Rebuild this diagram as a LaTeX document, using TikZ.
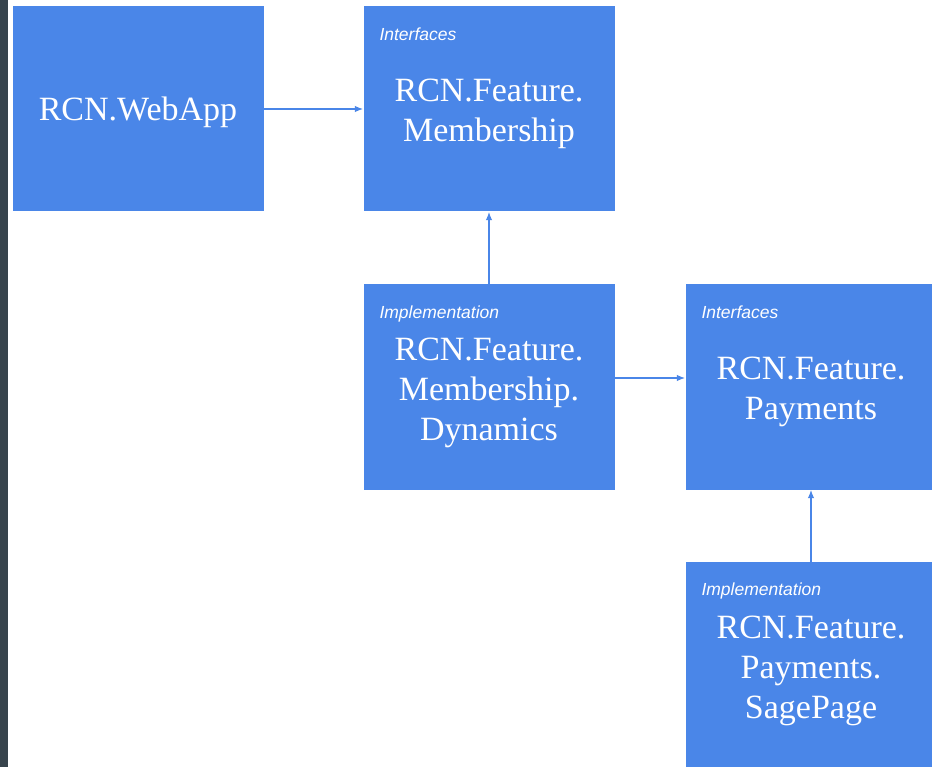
\documentclass[tikz,border=0pt]{standalone}
\usepackage{fontspec}
\setmainfont{Liberation Serif}
\newfontfamily\tagfont{Liberation Sans}
\usetikzlibrary{arrows.meta}

\definecolor{boxblue}{HTML}{4A86E8}
\definecolor{sidebar}{HTML}{37444C}

\tikzset{
  module/.style={fill=boxblue, minimum width=251pt, minimum height=205pt,
    inner sep=0pt},
  caption/.style={text=white, align=center, inner sep=0pt,
    font=\fontsize{34}{40}\selectfont},
  tag/.style={text=white, anchor=base west, inner sep=0pt,
    font=\tagfont\itshape\fontsize{17.5}{20}\selectfont},
  dep/.style={draw=boxblue, line width=1.4pt, -{Latex[length=8.5pt,width=6.5pt]}}
}

\begin{document}
\begin{tikzpicture}[x=1pt,y=-1pt]
      \clip (0,0) rectangle (932,767);
      \fill[white] (0,0) rectangle (932,767);
      \fill[sidebar] (0,0) rectangle (7.5,767);
      % modules
      \node[module] (webapp) at (138,109) {};
      \node[module] (membership) at (489,109) {};
      \node[module] (dynamics) at (489,387) {};
      \node[module] (payments) at (811,387) {};
      \node[module] (sagepage) at (811,664.5) {};
      % captions
      \node[caption] (webapptext) at ([yshift=-3pt]webapp.center) {RCN.WebApp};
      \node[caption] (membershiptext) at ([yshift=-5pt]membership.center) {RCN.Feature.\\Membership};
      \node[caption] (dynamicstext) at ([yshift=-6pt]dynamics.center) {RCN.Feature.\\Membership.\\Dynamics};
      \node[caption] (paymentstext) at ([yshift=-5pt]payments.center) {RCN.Feature.\\Payments};
      \node[caption] (sagepagetext) at ([yshift=-6pt]sagepage.center) {RCN.Feature.\\Payments.\\SagePage};
      % tags
      \node[tag] (membershiptag) at ([shift={(16pt,-34pt)}]membership.north west) {Interfaces};
      \node[tag] (dynamicstag) at ([shift={(16pt,-34pt)}]dynamics.north west) {Implementation};
      \node[tag] (paymentstag) at ([shift={(16pt,-34pt)}]payments.north west) {Interfaces};
      \node[tag] (sagepagetag) at ([shift={(16pt,-34pt)}]sagepage.north west) {Implementation};
      % dependencies
      \begin{scope}[dep]
        \draw (webapp.east) to (membership.west);
        \draw (dynamics.north) to (membership.south);
        \draw ([yshift=9pt]dynamics.east) to ([yshift=9pt]payments.west);
        \draw (sagepage.north) to (payments.south);
      \end{scope}
    \end{tikzpicture}
\end{document}
